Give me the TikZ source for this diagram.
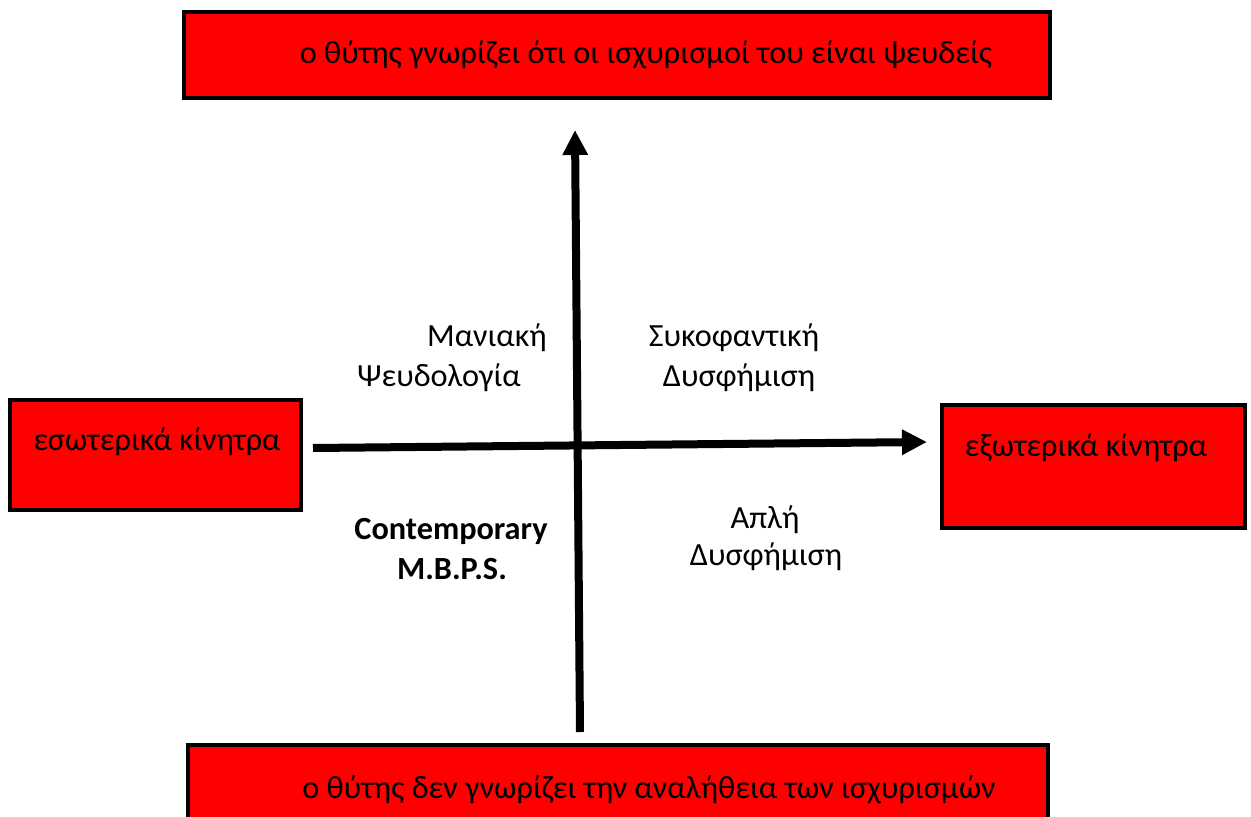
\documentclass[tikz,border=0pt]{standalone}
\usepackage{fontspec}
\setmainfont{Carlito}
\usetikzlibrary{arrows.meta}
\definecolor{boxred}{RGB}{255,0,0}
\tikzset{
  redbox/.style={draw=black, line width=3.5pt, fill=boxred, inner sep=0pt},
  lbl/.style={font=\fontsize{32.3}{38}\selectfont, inner sep=0pt, anchor=center},
  blbl/.style={lbl, font=\fontsize{32.3}{38}\selectfont\bfseries},
  axis/.style={line width=8pt, -{Triangle[length=25pt,width=24pt]}}
}
\begin{document}
\begin{tikzpicture}[x=1pt,y=-1pt]
\useasboundingbox (0,0) rectangle (1251,817);
% boxes
\node[redbox, minimum width=866pt, minimum height=86pt] (top) at (617,55) {};
\node[redbox, minimum width=860pt, minimum height=100pt] (bot) at (618,795) {};
\node[redbox, minimum width=291pt, minimum height=110pt] (left) at (155.5,455) {};
\node[redbox, minimum width=303pt, minimum height=123pt] (right) at (1093.5,466.5) {};
% box texts
\node[lbl] (toptxt) at (646,55) {ο θύτης γνωρίζει ότι οι ισχυρισμοί του είναι ψευδείς};
\node[lbl] (bottxt) at (649,790) {ο θύτης δεν γνωρίζει την αναλήθεια των ισχυρισμών};
\node[lbl] (lefttxt) at (157,442) {εσωτερικά κίνητρα};
\node[lbl] (righttxt) at (1086,448) {εξωτερικά κίνητρα};
% axes
\coordinate (vstart) at (580,732);
\coordinate (vend) at (575,130);
\coordinate (hstart) at (313,448);
\coordinate (hend) at (927,442);
\draw[axis] (vstart) -- (vend);
\draw[axis] (hstart) -- (hend);
% quadrant labels
\node[lbl] (q1a) at (487,338) {Μανιακή};
\node[lbl] (q1b) at (439,378) {Ψευδολογία};
\node[lbl] (q2a) at (734,338) {Συκοφαντική};
\node[lbl] (q2b) at (739,378) {Δυσφήμιση};
\node[blbl] (q3a) at (451,531) {Contemporary};
\node[blbl] (q3b) at (452,569) {M.B.P.S.};
\node[lbl] (q4a) at (765,520) {Απλή};
\node[lbl] (q4b) at (766,557) {Δυσφήμιση};
\end{tikzpicture}
\end{document}
